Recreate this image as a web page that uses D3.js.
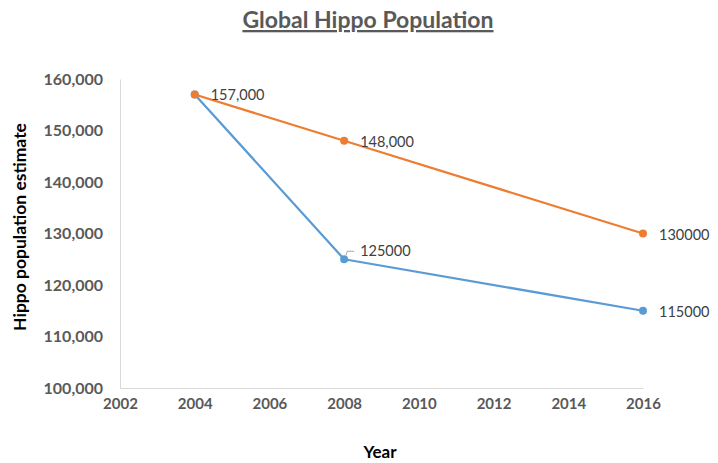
<!DOCTYPE html>
<html>
<head>
<meta charset="utf-8">
<script src="https://cdn.jsdelivr.net/npm/d3@7"></script>
<style>
  html, body { margin: 0; padding: 0; background: #fff; }
  svg { display: block; }
</style>
</head>
<body>
<svg id="chart" width="718" height="463"></svg>
<script>
// Survey years and population estimates for the two series
const years = [2004, 2008, 2016];
const seriesBlue = [157000, 125000, 115000];
const seriesOrange = [157000, 148000, 130000];
// Data label texts as printed next to each point ("" = no label)
const labelsBlue = ["", "125000", "115000"];
const labelsOrange = ["157,000", "148,000", "130000"];
const xTicks = [2002, 2004, 2006, 2008, 2010, 2012, 2014, 2016];
const yTicks = [100000, 110000, 120000, 130000, 140000, 150000, 160000];

const svg = d3.select("#chart");
const font = "Lato, 'Open Sans', sans-serif";
const tickColor = "#595959";

const x = d3.scaleLinear().domain([2002, 2016]).range([120, 643]);
const y = d3.scaleLinear().domain([100000, 160000]).range([388, 79]);

// Title
svg.append("text")
  .attr("x", 368).attr("y", 28)
  .attr("text-anchor", "middle")
  .attr("font-family", font).attr("font-weight", "bold")
  .attr("font-size", 23).attr("fill", "#595959")
  .attr("text-decoration", "underline")
  .text("Global Hippo Population");

// Axes
const yAxis = d3.axisLeft(y).tickValues(yTicks).tickSize(0).tickPadding(17)
  .tickFormat(d3.format(","));
const gy = svg.append("g").attr("transform", "translate(120,0)").call(yAxis);
gy.select(".domain").attr("stroke", "#d9d9d9").attr("stroke-width", 1);
gy.selectAll("text").attr("font-family", font).attr("font-weight", "bold")
  .attr("font-size", 16).attr("fill", tickColor);

const xAxis = d3.axisBottom(x).tickValues(xTicks).tickSize(0).tickPadding(10)
  .tickFormat(d3.format("d"));
const gx = svg.append("g").attr("transform", "translate(0,388)").call(xAxis);
gx.select(".domain").attr("stroke", "#d9d9d9").attr("stroke-width", 1);
gx.selectAll("text").attr("font-family", font).attr("font-weight", "bold")
  .attr("font-size", 15).attr("fill", tickColor);

// Axis titles
svg.append("text")
  .attr("transform", "translate(26,227) rotate(-90)")
  .attr("text-anchor", "middle")
  .attr("font-family", font).attr("font-weight", "bold")
  .attr("font-size", 17.5).attr("fill", "#000")
  .text("Hippo population estimate");

svg.append("text")
  .attr("x", 380).attr("y", 458)
  .attr("text-anchor", "middle")
  .attr("font-family", font).attr("font-weight", "bold")
  .attr("font-size", 17).attr("fill", "#000")
  .text("Year");

const line = d3.line().x(d => x(d[0])).y(d => y(d[1]));

function drawSeries(values, color) {
  const pts = years.map((yr, i) => [yr, values[i]]);
  svg.append("path").datum(pts)
    .attr("d", line).attr("fill", "none")
    .attr("stroke", color).attr("stroke-width", 2.25)
    .attr("stroke-linejoin", "round");
  svg.append("g").selectAll("circle").data(pts).join("circle")
    .attr("cx", d => x(d[0])).attr("cy", d => y(d[1]))
    .attr("r", 4).attr("fill", color);
}

drawSeries(seriesBlue, "#5b9bd5");
drawSeries(seriesOrange, "#ed7d31");

// Data labels
function drawLabels(values, labels, dy) {
  years.forEach((yr, i) => {
    if (!labels[i]) return;
    svg.append("text")
      .attr("x", x(yr) + 16).attr("y", y(values[i]) + dy[i])
      .attr("font-family", font).attr("font-size", 14.5).attr("fill", "#404040")
      .text(labels[i]);
  });
}
drawLabels(seriesOrange, labelsOrange, [6, 6, 6]);
drawLabels(seriesBlue, labelsBlue, [0, -3, 6]);

// Leader line for the lifted 125000 label
const lx = x(years[1]), ly = y(seriesBlue[1]);
svg.append("path")
  .attr("d", `M${lx + 2},${ly - 4} L${lx + 3},${ly - 8} L${lx + 10},${ly - 8}`)
  .attr("fill", "none").attr("stroke", "#a6a6a6").attr("stroke-width", 1);
</script>
</body>
</html>
